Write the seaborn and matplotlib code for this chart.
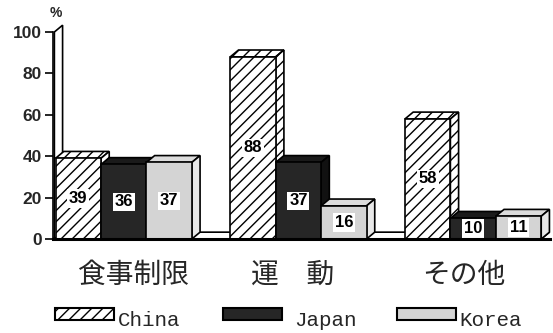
import matplotlib
matplotlib.use("Agg")
import matplotlib.pyplot as plt
import seaborn as sns
import pandas as pd
from matplotlib.patches import Polygon, Rectangle

categories = ["食事制限", "運　動", "その他"]
countries = ["China", "Japan", "Korea"]
china = [39, 88, 58]
japan = [36, 37, 10]
korea = [37, 16, 11]
yticks = [0, 20, 40, 60, 80, 100]

rows = []
for c, vals in zip(countries, [china, japan, korea]):
    for cat, v in zip(categories, vals):
        rows.append({"cat": cat, "country": c, "value": v})
df = pd.DataFrame(rows)

sns.set_theme(style="white")
plt.rcParams['font.family'] = ['Liberation Sans', 'DejaVu Sans']
plt.rcParams['hatch.linewidth'] = 1.0
plt.rcParams['hatch.color'] = 'black'

fig = plt.figure(figsize=(5.53, 3.33), dpi=100)
ax = fig.add_axes([0.0958, 0.2823, 0.8987, 0.6216])

front = {"China": "white", "Japan": "#262626", "Korea": "#d4d4d4"}
side = {"China": "white", "Japan": "#111111", "Korea": "#e8e8e8"}
top = {"China": "white", "Japan": "#1a1a1a", "Korea": "#dcdcdc"}
hatches = {"China": "///", "Japan": None, "Korea": None}

sns.barplot(data=df, x="cat", y="value", hue="country", order=categories,
            hue_order=countries, palette=front, width=0.78, ax=ax,
            edgecolor="black", linewidth=1.2, saturation=1, legend=False,
            errorbar=None)

dx, dy = 0.047, 3.3
xl, xr = -0.405, 2.44
ax.set_xlim(xl, xr)
ax.set_ylim(0, 100)

bars = []
for country, cont in zip(countries, ax.containers):
    vals = {"China": china, "Japan": japan, "Korea": korea}[country]
    for bar, v in zip(cont.patches, vals):
        bars.append((bar.get_x(), bar, country, v))
bars.sort(key=lambda t: t[0])

last_right = max(b.get_x() + b.get_width() for _, b, _, _ in bars)
floor = Polygon([(xl, 0), (last_right, 0), (last_right + dx, dy), (xl + dx, dy)],
                closed=True, fc="white", ec="black", lw=1.2, zorder=1, clip_on=False)
ax.add_patch(floor)
wall = Polygon([(xl + 0.008, 0), (xl + 0.008, 100), (xl + 0.008 + dx, 100 + dy), (xl + 0.008 + dx, dy)],
               closed=True, fc="white", ec="black", lw=1.2, zorder=1, clip_on=False)
ax.add_patch(wall)

for i, (x0, bar, country, v) in enumerate(bars):
    w = bar.get_width()
    h = bar.get_height()
    z = 3 + i
    bar.set_zorder(z + 0.5)
    bar.set_hatch(hatches[country])
    tp = Polygon([(x0, h), (x0 + w, h), (x0 + w + dx, h + dy), (x0 + dx, h + dy)],
                 closed=True, fc=top[country], ec="black", lw=1.2, zorder=z,
                 hatch=hatches[country], clip_on=False)
    sp = Polygon([(x0 + w, 0), (x0 + w + dx, dy), (x0 + w + dx, h + dy), (x0 + w, h)],
                 closed=True, fc=side[country], ec="black", lw=1.2, zorder=z,
                 hatch=hatches[country], clip_on=False)
    ax.add_patch(tp)
    ax.add_patch(sp)
    ax.text(x0 + w / 2, h / 2, str(v), ha="center", va="center", fontsize=12,
            fontweight="bold", color="black", zorder=50,
            bbox=dict(boxstyle="square,pad=0.1", fc="white", ec="none"))

for s in ["top", "right"]:
    ax.spines[s].set_visible(False)
ax.spines["left"].set_color("black")
ax.spines["left"].set_linewidth(1.2)
ax.spines["bottom"].set_color("black")
ax.spines["bottom"].set_linewidth(2.2)
ax.spines["bottom"].set_zorder(60)

ax.set_yticks(yticks)
ax.set_yticklabels([str(t) for t in yticks], fontsize=12.5, fontweight="bold")
ax.tick_params(axis="y", direction="out", length=6, width=1.2, color="black", pad=2, left=True)

ax.set_xticks([0.054, 0.966, 1.946])
ax.set_xticklabels(categories, fontsize=20, family=["Noto Sans CJK JP", "DejaVu Sans"])
ax.tick_params(axis="x", length=0, pad=15)
ax.set_xlabel("")
ax.set_ylabel("")

fig.text(56 / 553, 1 - 13 / 333, "%", ha="center", va="center", fontsize=10, fontweight="bold")

# legend (manual placement)
W, H = 553.0, 333.0
handle_x = [55, 223, 397]
text_x = [118, 294, 459]
for c, hx, tx in zip(countries, handle_x, text_x):
    r = Rectangle((hx / W, 1 - 320 / H), 59 / W, 12 / H, transform=fig.transFigure,
                  fc=front[c], ec="black", lw=1.5, hatch=hatches[c])
    fig.add_artist(r)
    fig.text(tx / W, 1 - 326 / H, c, ha="left", va="baseline",
             family="Liberation Mono", fontsize=15)

fig.savefig("out.png", dpi=100)
